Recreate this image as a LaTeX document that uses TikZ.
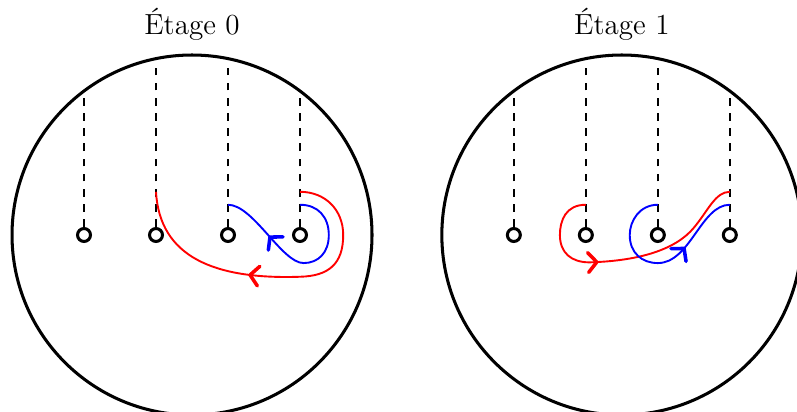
\documentclass[tikz,border=0pt]{standalone}
\usetikzlibrary{arrows.meta,decorations.markings}
\begin{document}
\begin{tikzpicture}[
  disc/.style={line width=1.2pt},
  hole/.style={circle, draw, line width=1.2pt, minimum size=0.18cm, inner sep=0pt},
  cut/.style={dashed, line width=0.75pt},
  strand/.style={line width=0.75pt},
  titletext/.style={anchor=base, font=\fontsize{11.5}{13}\selectfont},
  mid arrow/.style={postaction={decorate}, decoration={markings,
     mark=at position #1 with {\arrow{Straight Barb[length=3.4pt,width=7.8pt,line width=1.4pt,round]}}}}
]
\useasboundingbox (-2.667,-2.458) rectangle (8.403,3.264);

% ---------- Etage 0 ----------
\begin{scope}
  \node[titletext] (tL) at (0,2.78) {\'Etage 0};
  \draw[disc] (0,0) circle (2.5);
  \foreach \i/\x/\y in {1/-1.5/2.0, 2/-0.5/2.449, 3/0.5/2.449, 4/1.5/2.0} {
    \node[hole] (L\i) at (\x,0) {};
    \coordinate (Lt\i) at (\x,\y);
    \draw[cut] (L\i.north) -- (Lt\i);
  }
  \coordinate (Lr4) at (1.5,0.6);
  \coordinate (Lr2) at (-0.5,0.6);
  \coordinate (Lb4) at (1.5,0.42);
  \coordinate (Lb3) at (0.5,0.42);
  \draw[strand, red, mid arrow=0.58] (Lr4) .. controls (1.85,0.6) and (2.1,0.35) .. (2.1,0)
     .. controls (2.1,-0.4) and (1.9,-0.57) .. (1.5,-0.58)
     .. controls (0.3,-0.62) and (-0.45,-0.3) .. (Lr2);
  \draw[strand, blue, mid arrow=0.72] (Lb4) .. controls (1.75,0.42) and (1.9,0.25) .. (1.9,0)
     .. controls (1.9,-0.25) and (1.75,-0.39) .. (1.55,-0.39)
     .. controls (1.25,-0.39) and (0.85,0.42) .. (Lb3);
\end{scope}

% ---------- Etage 1 ----------
\begin{scope}[xshift=5.97cm]
  \node[titletext] (tR) at (0,2.78) {\'Etage 1};
  \draw[disc] (0,0) circle (2.5);
  \foreach \i/\x/\y in {1/-1.5/2.0, 2/-0.5/2.449, 3/0.5/2.449, 4/1.5/2.0} {
    \node[hole] (R\i) at (\x,0) {};
    \coordinate (Rt\i) at (\x,\y);
    \draw[cut] (R\i.north) -- (Rt\i);
  }
  \coordinate (Rr2) at (-0.5,0.42);
  \coordinate (Rr4) at (1.5,0.6);
  \coordinate (Rb3) at (0.5,0.42);
  \coordinate (Rb4) at (1.5,0.42);
  \draw[strand, red, mid arrow=0.39] (Rr2) .. controls (-0.78,0.42) and (-0.86,0.2) .. (-0.86,0)
     .. controls (-0.86,-0.25) and (-0.7,-0.38) .. (-0.45,-0.38)
     .. controls (0.25,-0.36) and (0.75,-0.2) .. (1.0,0.1)
     .. controls (1.2,0.34) and (1.3,0.6) .. (Rr4);
  \draw[strand, blue, mid arrow=0.66] (Rb3) .. controls (0.25,0.42) and (0.11,0.2) .. (0.11,0)
     .. controls (0.11,-0.25) and (0.28,-0.39) .. (0.5,-0.39)
     .. controls (0.95,-0.39) and (1.1,0.42) .. (Rb4);
\end{scope}
\end{tikzpicture}
\end{document}
